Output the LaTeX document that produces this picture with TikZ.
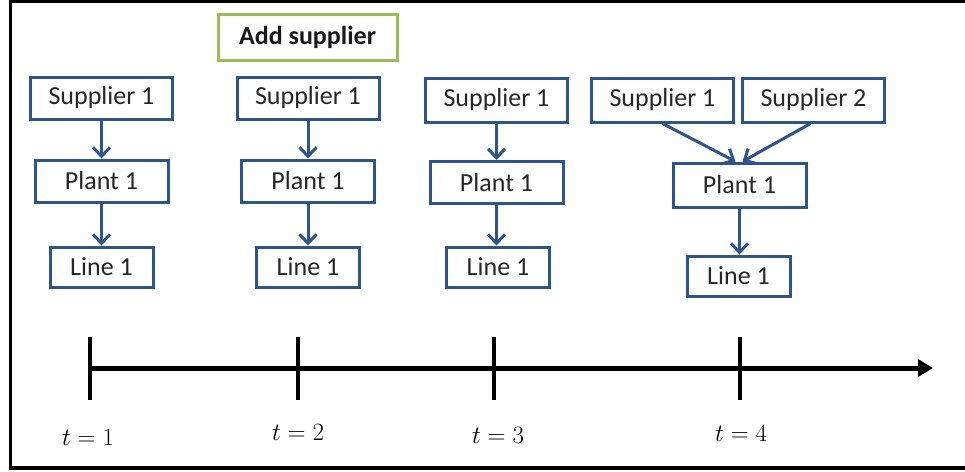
\documentclass[tikz,border=0pt]{standalone}
\usepackage{fontspec}
\setmainfont{Carlito}
\usetikzlibrary{arrows.meta}
\definecolor{boxblue}{RGB}{46,84,140}
\definecolor{boxgreen}{RGB}{155,187,89}
\tikzset{
  box/.style={draw=boxblue, line width=3pt, rectangle, inner sep=0pt,
    font=\fontsize{26}{30}\selectfont, text=black!85, minimum height=42pt},
  addbox/.style={draw=boxgreen, line width=3pt, rectangle, inner sep=0pt,
    font=\fontsize{26}{30}\selectfont\bfseries, text=black!90, minimum height=46pt, minimum width=179pt},
  sup/.style={box, minimum width=142pt},
  pla/.style={box, minimum width=133pt},
  lin/.style={box, minimum width=103pt, minimum height=40pt},
  conn/.style={draw=boxblue, line width=3pt, -{Straight Barb[length=9pt,width=17pt,line width=3pt]}},
  tick/.style={line width=3.5pt},
  tlabel/.style={font=\fontsize{27}{30}\selectfont, inner sep=0pt}
}
\begin{document}
\begin{tikzpicture}[x=1pt,y=-1pt]
\useasboundingbox (0,0) rectangle (965,471);
% frame (right side cropped in the reference)
\draw[line width=3.5pt] (965,1.5) -- (10.5,1.5) -- (10.5,468) -- (965,468);

% column 1
\node[sup] (s1) at (101.5,98) {Supplier 1};
\node[pla] (p1) at (101.5,181) {Plant 1};
\node[lin] (l1) at (101.5,267) {Line 1};
\draw[conn] (s1) -- (p1);
\draw[conn] (p1) -- (l1);

% column 2
\node[addbox] (add) at (307.5,37) {Add supplier};
\node[sup] (s2) at (308,98) {Supplier 1};
\node[pla] (p2) at (308,181) {Plant 1};
\node[lin] (l2) at (308,267) {Line 1};
\draw[conn] (s2) -- (p2);
\draw[conn] (p2) -- (l2);

% column 3
\node[sup, minimum height=44pt] (s3) at (496.5,100) {Supplier 1};
\node[pla] (p3) at (496.5,182.5) {Plant 1};
\node[lin] (l3) at (498,267) {Line 1};
\draw[conn] (s3.south) -- (s3.south |- p3.north);
\draw[conn] (p3.south) -- (p3.south |- l3.north);

% column 4
\node[sup, minimum height=44pt] (s4a) at (662.5,100) {Supplier 1};
\node[sup, minimum height=44pt] (s4b) at (813.5,100) {Supplier 2};
\node[pla, minimum height=44pt] (p4) at (739.5,185) {Plant 1};
\node[lin] (l4) at (738.5,276) {Line 1};
\draw[conn] (s4a.south) -- ([xshift=-4pt]p4.north);
\draw[conn] ([xshift=-3pt]s4b.south) -- ([xshift=3pt]p4.north);
\draw[conn] (p4.south) -- (p4.south |- l4.north);

% timeline
\coordinate (tstart) at (90,368);
\coordinate (tend) at (933,368);
\draw[line width=5pt, -{Triangle[length=15pt,width=17pt]}] (tstart) -- (tend);
\foreach \x/\n in {90/1,298/2,494/3,740/4}{
  \coordinate (tk\n a) at (\x,337);
  \coordinate (tk\n b) at (\x,400);
  \draw[tick] (tk\n a) -- (tk\n b);
}
\node[tlabel] (t1) at (88,437) {$t=1$};
\node[tlabel] (t2) at (298,432) {$t=2$};
\node[tlabel] (t3) at (498,435) {$t=3$};
\node[tlabel] (t4) at (741,433) {$t=4$};
\end{tikzpicture}
\end{document}
